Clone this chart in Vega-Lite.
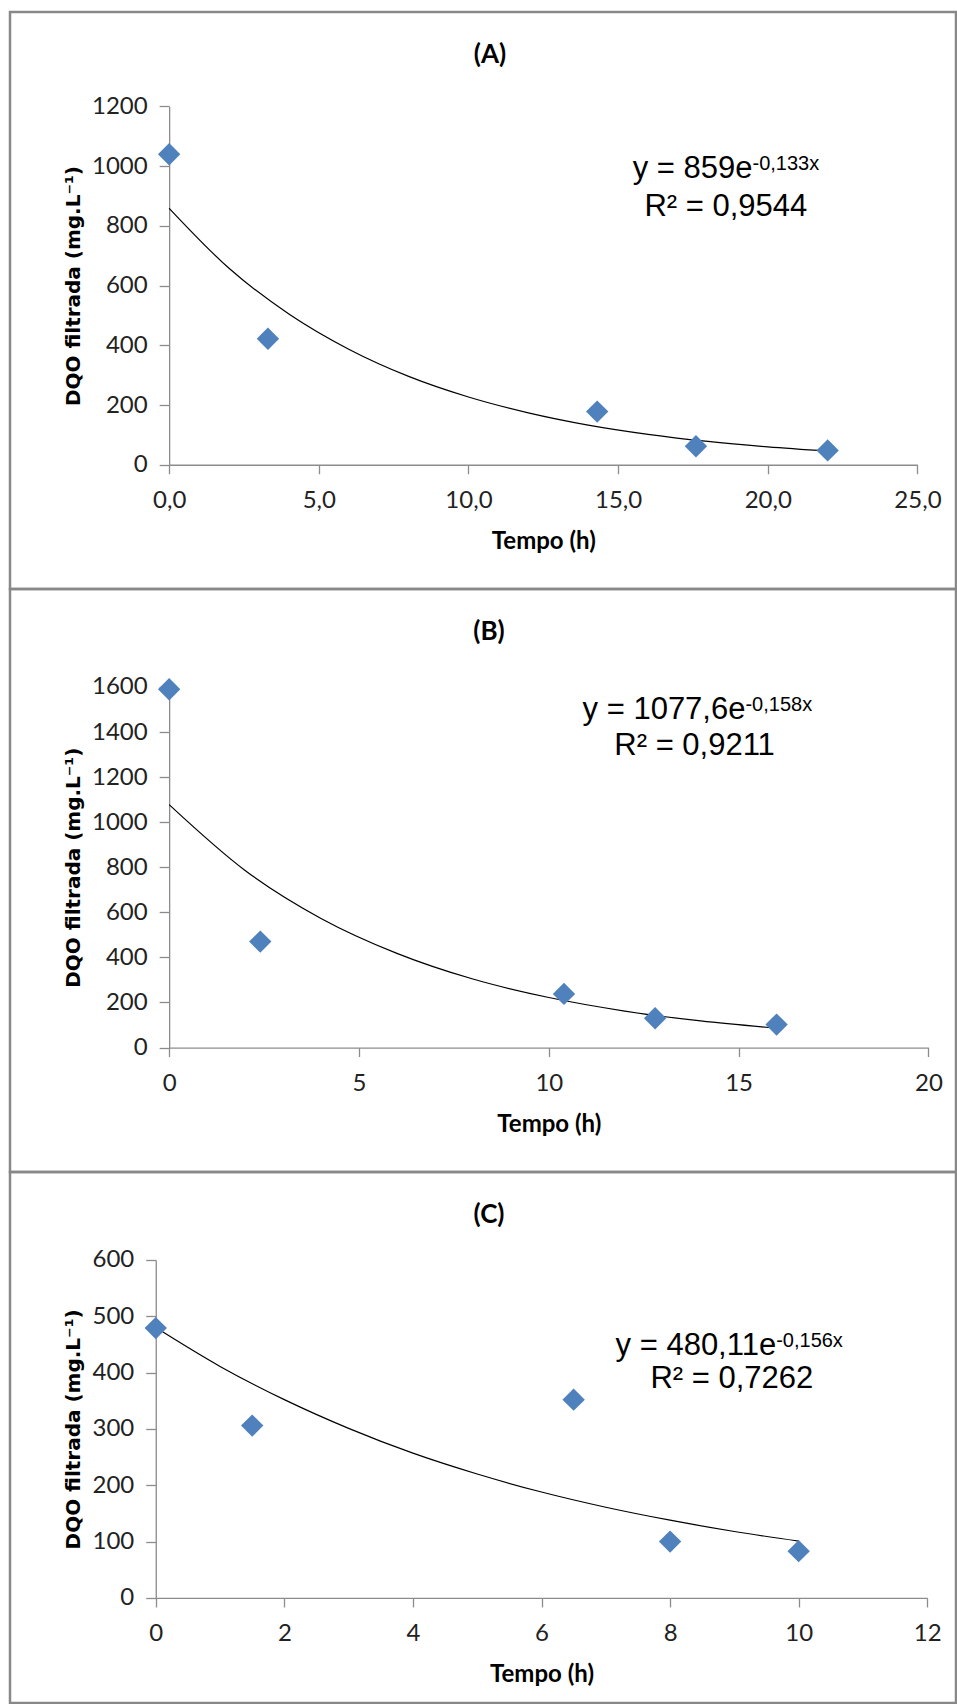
{
  "$schema": "https://vega.github.io/schema/vega-lite/v6.json",
  "padding": {"left": 8, "top": 10, "right": 0, "bottom": 0},
  "background": "white",
  "config": {
    "view": {"stroke": "#888888", "strokeWidth": 2.5},
    "axis": {"grid": false, "domainColor": "#8c8c8c", "domainWidth": 1.3, "tickColor": "#8c8c8c", "tickWidth": 1.3, "labelFont": "Lato", "labelFontSize": 24, "labelColor": "#222222", "labelFlush": false, "labelOverlap": false, "titleFont": "Lato", "titleFontSize": 24, "titleFontWeight": "bold", "titleColor": "#000000"},
    "axisX": {"tickSize": 9, "labelPadding": 15, "titlePadding": 17},
    "axisY": {"tickSize": 10, "labelPadding": 12, "titlePadding": 8, "titleFont": "DejaVu Sans", "titleFontSize": 20},
    "title": {"font": "Lato", "fontSize": 26, "fontWeight": "bold", "color": "#000000", "anchor": "middle", "frame": "group"},
    "text": {"font": "Liberation Sans", "color": "#000000", "baseline": "alphabetic"}
  },
  "datasets": {
    "ptsA": [{"t": 0, "dqo": 1040}, {"t": 3.3, "dqo": 422}, {"t": 14.3, "dqo": 178}, {"t": 17.6, "dqo": 62}, {"t": 22, "dqo": 48}],
    "curveA": [{"t": 0, "dqo": 859}, {"t": 2, "dqo": 658}, {"t": 4, "dqo": 505}, {"t": 6, "dqo": 387}, {"t": 8, "dqo": 296}, {"t": 10, "dqo": 227}, {"t": 12, "dqo": 174}, {"t": 14, "dqo": 133}, {"t": 16, "dqo": 102}, {"t": 18, "dqo": 78}, {"t": 20, "dqo": 60}, {"t": 22, "dqo": 46}],
    "eqA": [{"eq": "y = 859e", "sup": "-0,133x", "r2": "R² = 0,9544"}],
    "ptsB": [{"t": 0, "dqo": 1590}, {"t": 2.4, "dqo": 470}, {"t": 10.4, "dqo": 238}, {"t": 12.8, "dqo": 130}, {"t": 16, "dqo": 102}],
    "curveB": [{"t": 0, "dqo": 1078}, {"t": 2, "dqo": 786}, {"t": 4, "dqo": 573}, {"t": 6, "dqo": 418}, {"t": 8, "dqo": 304}, {"t": 10, "dqo": 222}, {"t": 12, "dqo": 162}, {"t": 14, "dqo": 118}, {"t": 16, "dqo": 86}],
    "eqB": [{"eq": "y = 1077,6e", "sup": "-0,158x", "r2": "R² = 0,9211"}],
    "ptsC": [{"t": 0, "dqo": 479}, {"t": 1.5, "dqo": 306}, {"t": 6.5, "dqo": 352}, {"t": 8, "dqo": 100}, {"t": 10, "dqo": 83}],
    "curveC": [{"t": 0, "dqo": 480}, {"t": 1, "dqo": 411}, {"t": 2, "dqo": 352}, {"t": 3, "dqo": 301}, {"t": 4, "dqo": 257}, {"t": 5, "dqo": 220}, {"t": 6, "dqo": 188}, {"t": 7, "dqo": 161}, {"t": 8, "dqo": 138}, {"t": 9, "dqo": 118}, {"t": 10, "dqo": 101}],
    "eqC": [{"eq": "y = 480,11e", "sup": "-0,156x", "r2": "R² = 0,7262"}]
  },
  "spacing": 0,
  "bounds": "flush",
  "vconcat": [
    {
      "width": 946, "height": 577,
      "title": {"text": "(A)", "offset": -55.5, "dx": 7},
      "layer": [
        {"data": {"name": "curveA"}, "mark": {"type": "line", "color": "#000000", "strokeWidth": 1.2, "interpolate": "monotone"},
         "encoding": {
           "x": {"field": "t", "type": "quantitative", "title": "Tempo (h)", "scale": {"domain": [0, 25], "nice": false, "range": [159.15, 907.45]}, "axis": {"values": [0, 5, 10, 15, 20, 25], "offset": -124.25, "labelExpr": "replace(format(datum.value, '.1f'), '.', ',')"}},
           "y": {"field": "dqo", "type": "quantitative", "title": "DQO filtrada (mg.L⁻¹)", "scale": {"domain": [0, 1200], "nice": false, "range": [452.75, 94.45]}, "axis": {"values": [0, 200, 400, 600, 800, 1000, 1200], "format": "d", "offset": -159.15}}
         }},
        {"data": {"name": "ptsA"}, "mark": {"type": "point", "shape": "diamond", "filled": true, "color": "#4F81BD", "opacity": 1, "size": 500},
         "encoding": {"x": {"field": "t", "type": "quantitative"}, "y": {"field": "dqo", "type": "quantitative"}}},
        {"data": {"name": "eqA"}, "mark": {"type": "text", "align": "right", "fontSize": 31},
         "encoding": {"x": {"datum": 19.49, "type": "quantitative"}, "y": {"datum": 961, "type": "quantitative"}, "text": {"field": "eq", "type": "nominal"}}},
        {"data": {"name": "eqA"}, "mark": {"type": "text", "align": "left", "fontSize": 20, "dy": -8},
         "encoding": {"x": {"datum": 19.49, "type": "quantitative"}, "y": {"datum": 961, "type": "quantitative"}, "text": {"field": "sup", "type": "nominal"}}},
        {"data": {"name": "eqA"}, "mark": {"type": "text", "align": "center", "fontSize": 31},
         "encoding": {"x": {"datum": 18.6, "type": "quantitative"}, "y": {"datum": 834, "type": "quantitative"}, "text": {"field": "r2", "type": "nominal"}}}
      ]
    },
    {
      "width": 946, "height": 583,
      "title": {"text": "(B)", "offset": -55.5, "dx": 6},
      "layer": [
        {"data": {"name": "curveB"}, "mark": {"type": "line", "color": "#000000", "strokeWidth": 1.2, "interpolate": "monotone"},
         "encoding": {
           "x": {"field": "t", "type": "quantitative", "title": "Tempo (h)", "scale": {"domain": [0, 20], "nice": false, "range": [159.15, 918.45]}, "axis": {"values": [0, 5, 10, 15, 20], "format": "d", "offset": -124.45}},
           "y": {"field": "dqo", "type": "quantitative", "title": "DQO filtrada (mg.L⁻¹)", "scale": {"domain": [0, 1600], "nice": false, "range": [458.55, 97.95]}, "axis": {"values": [0, 200, 400, 600, 800, 1000, 1200, 1400, 1600], "format": "d", "offset": -159.15}}
         }},
        {"data": {"name": "ptsB"}, "mark": {"type": "point", "shape": "diamond", "filled": true, "color": "#4F81BD", "opacity": 1, "size": 500},
         "encoding": {"x": {"field": "t", "type": "quantitative"}, "y": {"field": "dqo", "type": "quantitative"}}},
        {"data": {"name": "eqB"}, "mark": {"type": "text", "align": "right", "fontSize": 31},
         "encoding": {"x": {"datum": 15.18, "type": "quantitative"}, "y": {"datum": 1460, "type": "quantitative"}, "text": {"field": "eq", "type": "nominal"}}},
        {"data": {"name": "eqB"}, "mark": {"type": "text", "align": "left", "fontSize": 20, "dy": -8},
         "encoding": {"x": {"datum": 15.18, "type": "quantitative"}, "y": {"datum": 1460, "type": "quantitative"}, "text": {"field": "sup", "type": "nominal"}}},
        {"data": {"name": "eqB"}, "mark": {"type": "text", "align": "center", "fontSize": 31},
         "encoding": {"x": {"datum": 13.84, "type": "quantitative"}, "y": {"datum": 1296, "type": "quantitative"}, "text": {"field": "r2", "type": "nominal"}}}
      ]
    },
    {
      "width": 946, "height": 531,
      "title": {"text": "(C)", "offset": -55.5, "dx": 6},
      "layer": [
        {"data": {"name": "curveC"}, "mark": {"type": "line", "color": "#000000", "strokeWidth": 1.2, "interpolate": "monotone"},
         "encoding": {
           "x": {"field": "t", "type": "quantitative", "title": "Tempo (h)", "scale": {"domain": [0, 12], "nice": false, "range": [145.75, 917.25]}, "axis": {"values": [0, 2, 4, 6, 8, 10, 12], "format": "d", "offset": -105.05}},
           "y": {"field": "dqo", "type": "quantitative", "title": "DQO filtrada (mg.L⁻¹)", "scale": {"domain": [0, 600], "nice": false, "range": [425.95, 87.95]}, "axis": {"values": [0, 100, 200, 300, 400, 500, 600], "format": "d", "offset": -145.75}}
         }},
        {"data": {"name": "ptsC"}, "mark": {"type": "point", "shape": "diamond", "filled": true, "color": "#4F81BD", "opacity": 1, "size": 500},
         "encoding": {"x": {"field": "t", "type": "quantitative"}, "y": {"field": "dqo", "type": "quantitative"}}},
        {"data": {"name": "eqC"}, "mark": {"type": "text", "align": "right", "fontSize": 31},
         "encoding": {"x": {"datum": 9.65, "type": "quantitative"}, "y": {"datum": 432, "type": "quantitative"}, "text": {"field": "eq", "type": "nominal"}}},
        {"data": {"name": "eqC"}, "mark": {"type": "text", "align": "left", "fontSize": 20, "dy": -8},
         "encoding": {"x": {"datum": 9.65, "type": "quantitative"}, "y": {"datum": 432, "type": "quantitative"}, "text": {"field": "sup", "type": "nominal"}}},
        {"data": {"name": "eqC"}, "mark": {"type": "text", "align": "center", "fontSize": 31},
         "encoding": {"x": {"datum": 8.96, "type": "quantitative"}, "y": {"datum": 372, "type": "quantitative"}, "text": {"field": "r2", "type": "nominal"}}}
      ]
    }
  ]
}
